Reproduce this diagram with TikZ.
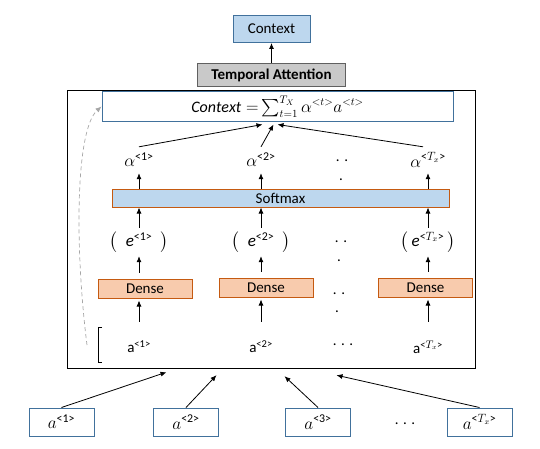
\documentclass[tikz,border=0pt]{standalone}
\usepackage{amsmath}
\usepackage{fontspec}
\setmainfont{Carlito}
\usetikzlibrary{calc}
\usetikzlibrary{arrows.meta,positioning}
\definecolor{ctxblue}{RGB}{189,215,238}
\definecolor{edgeblue}{RGB}{65,113,156}
\definecolor{denseorange}{RGB}{197,90,17}
\definecolor{densefill}{RGB}{248,203,173}
\definecolor{attgray}{RGB}{201,201,201}

\begin{document}
\begin{tikzpicture}[x=1pt, y=1pt, font=\fontsize{15}{18}\selectfont, node distance=20pt]
      \tikzstyle{blk}=[rectangle,draw=edgeblue,line width=1pt,inner sep=0pt]
      \tikzstyle{ctx}=[blk,fill=ctxblue,minimum width=77pt,minimum height=27pt]
      \tikzstyle{tmp}=[blk,draw=gray!75!black,fill=attgray,minimum width=148pt,minimum height=23pt,font=\fontsize{15}{18}\selectfont\bfseries]
      \tikzstyle{sumbox}=[blk,fill=white,minimum width=351pt,minimum height=29pt,font=\fontsize{16}{19}\selectfont]
      \tikzstyle{soft}=[blk,draw=denseorange,fill=ctxblue,minimum width=337pt,minimum height=18pt]
      \tikzstyle{dns}=[blk,draw=denseorange,fill=densefill,minimum width=94pt,minimum height=19pt]
      \tikzstyle{inp}=[blk,fill=white,minimum width=65pt,minimum height=28pt,font=\fontsize{17}{20}\selectfont]
      \tikzstyle{lbl}=[inner sep=0pt]
      \tikzstyle{mlbl}=[lbl,font=\fontsize{17}{20}\selectfont]
      \tikzstyle{arr}=[-{Latex[length=6pt,width=5pt]},line width=0.8pt]

      \useasboundingbox (0,0) rectangle (540,448);

      % top of the stack
      \node[ctx] (ctxtop) at (271.5,419) {Context};
      \node[tmp,below=of ctxtop] (tattn) {Temporal Attention};
      \node[draw,line width=1.2pt,inner sep=0pt,minimum width=408pt,minimum height=278pt,below=3pt of tattn] (attn) {};

      % inside the attention block
      \node[sumbox] (ctxsum) at (277.5,341.5) {$\mathit{Context}\;{=}\textstyle\sum_{t=1}^{T_X}\alpha^{<t>}a^{<t>}$};
      \node[mlbl,minimum height=26pt] (al1) at (139,288) {$\alpha^{\text{<1>}}$};
      \node[mlbl,minimum height=26pt] (al2) at (261,288) {$\alpha^{\text{<2>}}$};
      \node[mlbl,minimum height=26pt] (al3) at (428,288) {$\alpha^{\text{<}T_x\text{>}}$};
      \node[soft] (softmax) at (280.5,250) {Softmax};
      \node[mlbl,minimum height=28pt] (e1) at (139,206) {$\bigl($\enspace\textit{e}\textsuperscript{<1>}\enspace$\bigr)$};
      \node[mlbl,minimum height=28pt] (e2) at (261,206) {$\bigl($\enspace\textit{e}\textsuperscript{<2>}\enspace$\bigr)$};
      \node[mlbl,minimum height=28pt] (e3) at (428,206) {$\bigl($\,\textit{e}\textsuperscript{<$T_x$>}\,$\bigr)$};
      \node[dns] (dense1) at (145,159.5) {Dense};
      \node[dns] (dense2) at (266,160.5) {Dense};
      \node[dns] (dense3) at (425.5,160.5) {Dense};
      \node[lbl,minimum height=50pt] (a1) at (139,101) {a\textsuperscript{<1>}};
      \node[lbl,minimum height=50pt] (a2) at (261,101) {a\textsuperscript{<2>}};
      \node[lbl,minimum height=50pt] (a3) at (428,101) {a\textsuperscript{<$T_x$>}};

      % dots
      \node[lbl] (dalA) at (342,287) {. .};
      \node[lbl] (dalB) at (341,268) {.};
      \node[lbl] (deA) at (341,206) {. .};
      \node[lbl] (deB) at (339,187) {.};
      \node[lbl] (ddA) at (339,154) {. .};
      \node[lbl] (ddB) at (337,136) {.};
      \node[lbl] (daA) at (343,103) {. . .};

      % inputs
      \node[inp] (in1) at (61.5,26) {$a^{\text{<1>}}$};
      \node[inp] (in2) at (186,26) {$a^{\text{<2>}}$};
      \node[inp] (in3) at (318,26) {$a^{\text{<3>}}$};
      \node[inp] (in4) at (479.5,26) {$a^{\text{<}T_x\text{>}}$};
      \node[lbl] (inDots) at (405,24) {. . .};

      % bracket and loop back
      \draw[line width=0.8pt] (102,121) -- (98,121) -- (98,86) -- (102,86);
      \coordinate (loopst) at (87,103);
      \draw[arr,gray!70,line width=0.7pt,dash pattern=on 4pt off 3pt] (loopst) .. controls (75,198) and (75,318) .. (ctxsum.west);

      % arrows
      \draw[arr] (tattn) -- (ctxtop);
      \draw[arr] (al1.north) -- ($(ctxsum.south)+(-15,-3)$);
      \draw[arr] (al2.north) -- ($(ctxsum.south)+(-4,-3)$);
      \draw[arr] ([xshift=-5pt]al3.north) -- ($(ctxsum.south)+(0,-3)$);
      \draw[arr] (softmax.north -| al1) -- (al1.south);
      \draw[arr] (softmax.north -| al2) -- (al2.south);
      \draw[arr] (softmax.north -| al3) -- (al3.south);
      \draw[arr] (e1.north) -- (e1.north |- softmax.south);
      \draw[arr] (e2.north) -- (e2.north |- softmax.south);
      \draw[arr] (e3.north) -- (e3.north |- softmax.south);
      \draw[arr,shorten <=6pt] (dense1.north -| e1) -- (e1.south);
      \draw[arr,shorten <=6pt] (dense2.north -| e2) -- (e2.south);
      \draw[arr,shorten <=6pt] (dense3.north -| e3) -- (e3.south);
      \draw[arr,shorten >=2pt] (a1.north) -- (a1.north |- dense1.south);
      \draw[arr,shorten >=2pt] (a2.north) -- (a2.north |- dense2.south);
      \draw[arr,shorten >=2pt] (a3.north) -- (a3.north |- dense3.south);
      \draw[arr] (in1.north) -- ($(attn.south)+(-105,-3)$);
      \draw[arr] (in2.north) -- ($(attn.south)+(-55,-6)$);
      \draw[arr] (in3.north) -- ($(attn.south)+(13,-7)$);
      \draw[arr] (in4.north) -- ($(attn.south)+(65,-6)$);
    \end{tikzpicture}
\end{document}
